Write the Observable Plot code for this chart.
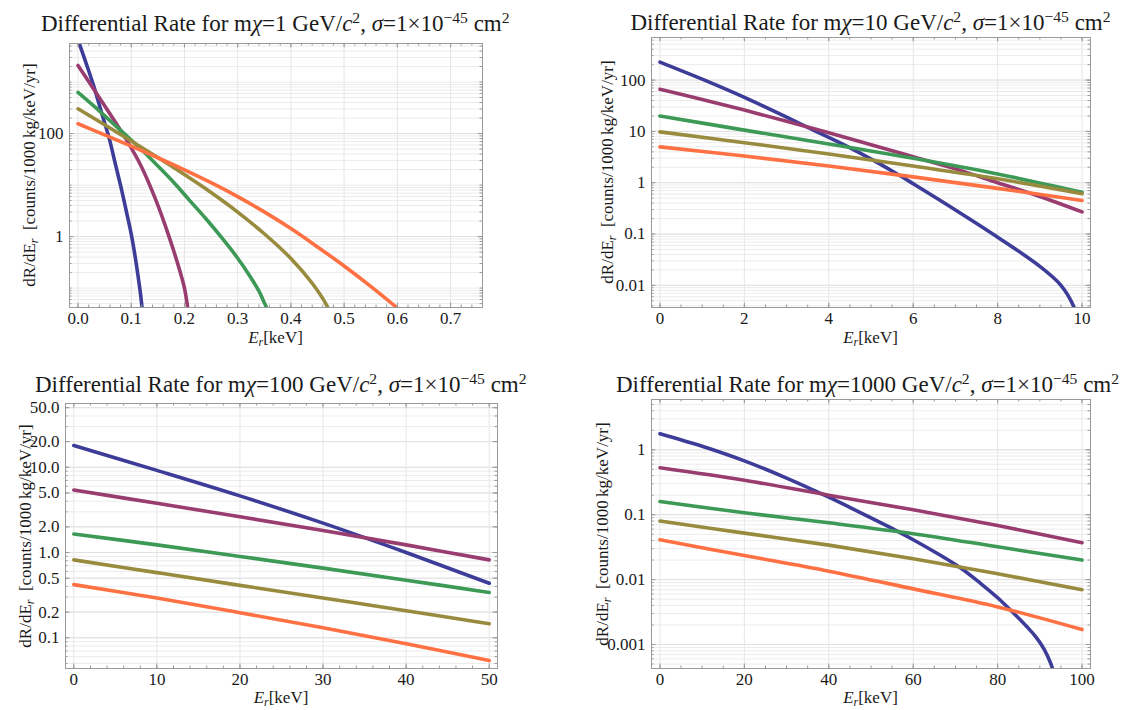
<!DOCTYPE html>
<html>
<head>
<meta charset="utf-8">
<script src="https://cdn.jsdelivr.net/npm/d3@7"></script>
<script src="https://cdn.jsdelivr.net/npm/@observablehq/plot@0.6"></script>
<style>
  html, body { margin: 0; padding: 0; background: #fff; }
  #root { position: relative; width: 1121px; height: 710px; overflow: hidden;
          font-family: "Liberation Serif", "DejaVu Serif", "Noto Serif", "Times New Roman", Times, serif; color: #1a1a1a; }
  #root svg { position: absolute; overflow: visible; }
  .title, .xlab, .ylab { font-family: "Liberation Serif", "DejaVu Serif", "Noto Serif", "Times New Roman", Times, serif; }
  .title { position: absolute; white-space: nowrap; line-height: 1; font-size: 23px; }
  .xlab { position: absolute; white-space: nowrap; transform: translateX(-50%); line-height: 1; font-size: 17px; }
  .ylab { position: absolute; white-space: nowrap; transform: translate(-50%, -50%) rotate(-90deg); line-height: 1; font-size: 17px; }
  sup { font-size: 0.68em; line-height: 0; vertical-align: baseline; position: relative; top: -0.5em; }
  sub { font-size: 0.7em; line-height: 0; vertical-align: baseline; position: relative; top: 0.25em; }
</style>
</head>
<body>
<div id="root"></div>
<script>
// ---------------- data ----------------
const seriesNames  = ["blue", "purple", "green", "olive", "orange"];
const seriesColors = ["#3d3d99", "#993d71", "#3d9956", "#998b3d", "#ff7043"];
const massLabels   = ["1", "10", "100", "1000"];

// Panel 1: mχ = 1 GeV/c²   (E in keV, R in counts/1000 kg/keV/yr)
const p1BlueE   = [0, 0.015, 0.029, 0.045, 0.059, 0.07, 0.082, 0.092, 0.1, 0.106, 0.111, 0.116, 0.12, 0.123];
const p1BlueR   = [6600, 2350, 870, 240, 78, 26, 8.0, 2.7, 1.12, 0.5, 0.23, 0.1, 0.045, 0.02];
const p1PurpleE = [0, 0.029, 0.059, 0.088, 0.118, 0.145, 0.171, 0.19, 0.2, 0.205, 0.21];
const p1PurpleR = [2100, 740, 250, 85, 24, 5.5, 1.0, 0.24, 0.1, 0.05, 0.02];
const p1GreenE  = [0, 0.03, 0.06, 0.09, 0.12, 0.15, 0.18, 0.21, 0.24, 0.27, 0.3, 0.32, 0.34, 0.35, 0.356, 0.365];
const p1GreenR  = [630, 340, 178, 93, 48, 23.5, 11.2, 5.0, 2.24, 0.95, 0.38, 0.19, 0.087, 0.052, 0.038, 0.02];
const p1OliveE  = [0, 0.05, 0.1, 0.15, 0.2, 0.25, 0.3, 0.35, 0.4, 0.44, 0.467, 0.48];
const p1OliveR  = [302, 148, 71.6, 34.3, 16.0, 7.16, 2.99, 1.135, 0.376, 0.124, 0.0468, 0.0224];
const p1OrangeE = [0, 0.05, 0.1, 0.15, 0.2, 0.25, 0.3, 0.35, 0.4, 0.45, 0.5, 0.55, 0.6, 0.62];
const p1OrangeR = [155, 94.4, 56.9, 33.9, 19.7, 11.1, 5.96, 3.02, 1.43, 0.63, 0.269, 0.108, 0.0407, 0.026];
const p1XTicks = [0, 0.1, 0.2, 0.3, 0.4, 0.5, 0.6, 0.7];
const p1XTickLabels = ["0.0", "0.1", "0.2", "0.3", "0.4", "0.5", "0.6", "0.7"];
const p1YTicks = [1, 100];
const p1YTickLabels = ["1", "100"];

// Panel 2: mχ = 10 GeV/c²
const p2BlueE   = [0, 1, 2, 3, 3.5, 4.48, 5.07, 5.62, 6, 7, 8, 9, 9.5, 9.8, 10];
const p2BlueR   = [224, 104, 46, 19.0, 12.0, 4.9, 2.7, 1.48, 0.955, 0.295, 0.087, 0.0234, 0.01, 0.0039, 0.001];
const p2PurpleE = [0, 1, 2, 3, 4, 5, 6, 7, 8, 9, 10];
const p2PurpleR = [66, 42, 26, 15.8, 9.4, 5.5, 3.2, 1.86, 1.0, 0.54, 0.27];
const p2GreenE  = [0, 2, 4, 6, 8, 10];
const p2GreenR  = [20, 10.6, 5.69, 2.99, 1.48, 0.65];
const p2OliveE  = [0, 2, 4, 6, 8, 10];
const p2OliveR  = [9.8, 6.03, 3.63, 2.11, 1.19, 0.61];
const p2OrangeE = [0, 2, 4, 6, 8, 10];
const p2OrangeR = [5.0, 3.31, 2.11, 1.30, 0.776, 0.452];
const p2XTicks = [0, 2, 4, 6, 8, 10];
const p2XTickLabels = ["0", "2", "4", "6", "8", "10"];
const p2YTicks = [0.01, 0.1, 1, 10, 100];
const p2YTickLabels = ["0.01", "0.1", "1", "10", "100"];

// Panel 3: mχ = 100 GeV/c²
const p3BlueE   = [0, 10, 20, 30, 40, 50];
const p3BlueR   = [18, 9.2, 4.62, 2.21, 1.0, 0.436];
const p3PurpleE = [0, 10, 20, 30, 40, 50];
const p3PurpleR = [5.4, 3.78, 2.63, 1.81, 1.23, 0.82];
const p3GreenE  = [0, 10, 20, 30, 40, 50];
const p3GreenR  = [1.65, 1.23, 0.90, 0.656, 0.474, 0.34];
const p3OliveE  = [0, 10, 20, 30, 40, 50];
const p3OliveR  = [0.82, 0.581, 0.412, 0.293, 0.208, 0.146];
const p3OrangeE = [0, 10, 20, 30, 40, 50];
const p3OrangeR = [0.42, 0.292, 0.197, 0.131, 0.085, 0.054];
const p3XTicks = [0, 10, 20, 30, 40, 50];
const p3XTickLabels = ["0", "10", "20", "30", "40", "50"];
const p3YTicks = [0.1, 0.2, 0.5, 1, 2, 5, 10, 20, 50];
const p3YTickLabels = ["0.1", "0.2", "0.5", "1.0", "2.0", "5.0", "10.0", "20.0", "50.0"];

// Panel 4: mχ = 1000 GeV/c²
const p4BlueE   = [0, 10, 20, 30, 40, 50, 57, 60, 65, 71, 76, 80, 84, 87, 89, 91, 92.5, 93.5, 94.5];
const p4BlueR   = [1.77, 1.135, 0.676, 0.367, 0.186, 0.0891, 0.0525, 0.0412, 0.0269, 0.0155, 0.0087, 0.00525, 0.00295, 0.00186, 0.00132, 0.00085, 0.000525, 0.00033, 0.000166];
const p4PurpleE = [0, 20, 40, 60, 80, 100];
const p4PurpleR = [0.53, 0.34, 0.20, 0.119, 0.068, 0.037];
const p4GreenE  = [0, 20, 40, 60, 80, 100];
const p4GreenR  = [0.16, 0.107, 0.075, 0.051, 0.032, 0.020];
const p4OliveE  = [0, 20, 40, 60, 80, 100];
const p4OliveR  = [0.08, 0.052, 0.034, 0.021, 0.0123, 0.007];
const p4OrangeE = [0, 20, 40, 60, 80, 100];
const p4OrangeR = [0.041, 0.0235, 0.0135, 0.0072, 0.0038, 0.0017];
const p4XTicks = [0, 20, 40, 60, 80, 100];
const p4XTickLabels = ["0", "20", "40", "60", "80", "100"];
const p4YTicks = [0.001, 0.01, 0.1, 1];
const p4YTickLabels = ["0.001", "0.01", "0.1", "1"];

// ---------------- layout (page pixels) ----------------
const panels = [
  { box: [0, 0, 560, 355],     frame: [69, 43, 482, 307],   xDomain: [-0.016, 0.76], yDomain: [0.042, 5600],
    xMinorStep: 0.02, titleBase: 31, xLabBase: 343, yLabX: 29,
    xTicks: p1XTicks, xTickLabels: p1XTickLabels, yTicks: p1YTicks, yTickLabels: p1YTickLabels,
    series: [[p1BlueE, p1BlueR], [p1PurpleE, p1PurpleR], [p1GreenE, p1GreenR], [p1OliveE, p1OliveR], [p1OrangeE, p1OrangeR]] },
  { box: [560, 0, 561, 355],   frame: [651, 37, 1090, 307], xDomain: [-0.2, 10.2], yDomain: [0.0037, 676],
    xMinorStep: 0.5, titleBase: 30, xLabBase: 343, yLabX: 607,
    xTicks: p2XTicks, xTickLabels: p2XTickLabels, yTicks: p2YTicks, yTickLabels: p2YTickLabels,
    series: [[p2BlueE, p2BlueR], [p2PurpleE, p2PurpleR], [p2GreenE, p2GreenR], [p2OliveE, p2OliveR], [p2OrangeE, p2OrangeR]] },
  { box: [0, 355, 560, 355],   frame: [65, 403, 497, 668],  xDomain: [-1, 51], yDomain: [0.0436, 56],
    xMinorStep: 2, titleBase: 392, xLabBase: 703, yLabX: 25,
    xTicks: p3XTicks, xTickLabels: p3XTickLabels, yTicks: p3YTicks, yTickLabels: p3YTickLabels,
    series: [[p3BlueE, p3BlueR], [p3PurpleE, p3PurpleR], [p3GreenE, p3GreenR], [p3OliveE, p3OliveR], [p3OrangeE, p3OrangeR]] },
  { box: [560, 355, 561, 355], frame: [651, 399, 1090, 668], xDomain: [-2, 102], yDomain: [0.000427, 5.96],
    xMinorStep: 5, titleBase: 392, xLabBase: 703, yLabX: 602,
    xTicks: p4XTicks, xTickLabels: p4XTickLabels, yTicks: p4YTicks, yTickLabels: p4YTickLabels,
    series: [[p4BlueE, p4BlueR], [p4PurpleE, p4PurpleR], [p4GreenE, p4GreenR], [p4OliveE, p4OliveR], [p4OrangeE, p4OrangeR]] }
];

// ---------------- helpers ----------------
function logGrid([lo, hi]) {
  const out = [];
  for (let e = Math.floor(Math.log10(lo)); e <= Math.ceil(Math.log10(hi)); e++)
    for (let k = 1; k <= 9; k++) { const v = +(k * Math.pow(10, e)).toPrecision(6); if (v >= lo && v <= hi) out.push(v); }
  return out;
}
function linGrid([lo, hi], step) {
  const out = [];
  for (let n = Math.ceil(lo / step - 1e-9); n <= Math.floor(hi / step + 1e-9); n++) out.push(+(n * step).toFixed(6));
  return out;
}

const root = document.getElementById("root");
const frameColor = "#9a9a9a";
const serif = "'Liberation Serif', 'DejaVu Serif', 'Noto Serif', 'Times New Roman', Times, serif";
const titleSize = 23;

panels.forEach((p, pi) => {
  const [bl, bt, bw, bh] = p.box;
  const [fl, ft, fr, fb] = p.frame;
  const fw = fr - fl, fh = fb - ft;
  const yAll = logGrid(p.yDomain);
  const xMinor = linGrid(p.xDomain, p.xMinorStep);
  const xRows = p.xTicks.map((t, i) => ({v: t, label: p.xTickLabels[i]}));
  const yRows = p.yTicks.map((t, i) => ({v: t, label: p.yTickLabels[i]}));

  const lines = p.series.map(([E, R], si) =>
    Plot.line(E.map((e, i) => ({E: e, R: R[i], series: seriesNames[si]})),
      {x: "E", y: "R", stroke: seriesColors[si], strokeWidth: 3.6, curve: "catmull-rom", clip: true}));

  const svg = Plot.plot({
    width: bw, height: bh,
    marginLeft: fl - bl, marginRight: bl + bw - fr, marginTop: ft - bt, marginBottom: bt + bh - fb,
    style: {fontFamily: serif, fontSize: "17px", color: "#1a1a1a", background: "transparent"},
    x: {domain: p.xDomain, label: null, axis: null},
    y: {type: "log", domain: p.yDomain, label: null, axis: null},
    marks: [
      Plot.gridY(yAll, {stroke: "#ececec", strokeOpacity: 1}),
      Plot.gridY(p.yTicks, {stroke: "#e0e0e0", strokeOpacity: 1}),
      Plot.gridX(p.xTicks, {stroke: "#e6e6e6", strokeOpacity: 1}),
      ...lines,
      Plot.frame({stroke: frameColor}),
      // inward frame ticks (Mathematica style), all four sides
      Plot.tickX(xMinor, {stroke: frameColor, insetTop: fh - 2.5}),
      Plot.tickX(xMinor, {stroke: frameColor, insetBottom: fh - 2.5}),
      Plot.tickX(p.xTicks, {stroke: frameColor, insetTop: fh - 4.5}),
      Plot.tickX(p.xTicks, {stroke: frameColor, insetBottom: fh - 4.5}),
      Plot.tickY(yAll, {stroke: frameColor, insetRight: fw - 2.5}),
      Plot.tickY(yAll, {stroke: frameColor, insetLeft: fw - 2.5}),
      Plot.tickY(p.yTicks, {stroke: frameColor, insetRight: fw - 4.5}),
      Plot.tickY(p.yTicks, {stroke: frameColor, insetLeft: fw - 4.5}),
      // tick labels
      Plot.text(xRows, {x: "v", text: "label", frameAnchor: "bottom", lineAnchor: "top", dy: 4,
                        fill: "#1a1a1a", fontFamily: serif, fontSize: 17}),
      Plot.text(yRows, {y: "v", text: "label", frameAnchor: "left", textAnchor: "end", dx: -6,
                        fill: "#1a1a1a", fontFamily: serif, fontSize: 17})
    ]
  });
  svg.style.left = bl + "px";
  svg.style.top = bt + "px";
  root.appendChild(svg);

  const cx = (fl + fr) / 2, cy = (ft + fb) / 2;

  const title = document.createElement("div");
  title.className = "title";
  title.innerHTML = `Differential Rate for m<i>χ</i>=${massLabels[pi]} GeV/<i>c</i><sup>2</sup>, <i>σ</i>=1×10<sup>−45</sup> cm<sup>2</sup>`;
  title.style.top = (p.titleBase - 0.8375 * titleSize) + "px";
  root.appendChild(title);
  const tw = title.offsetWidth;
  title.style.left = Math.min(cx - tw / 2, 1119 - tw) + "px";

  const xl = document.createElement("div");
  xl.className = "xlab";
  xl.innerHTML = `<i>E</i><sub><i>r</i></sub>[keV]`;
  xl.style.left = cx + "px";
  xl.style.top = (p.xLabBase - 0.8375 * 17) + "px";
  root.appendChild(xl);

  const yl = document.createElement("div");
  yl.className = "ylab";
  yl.innerHTML = `dR/dE<sub><i>r</i></sub>&nbsp; [counts/1000&thinsp;kg/keV/yr]`;
  yl.style.left = p.yLabX + "px";
  yl.style.top = cy + "px";
  root.appendChild(yl);
});
</script>
</body>
</html>
